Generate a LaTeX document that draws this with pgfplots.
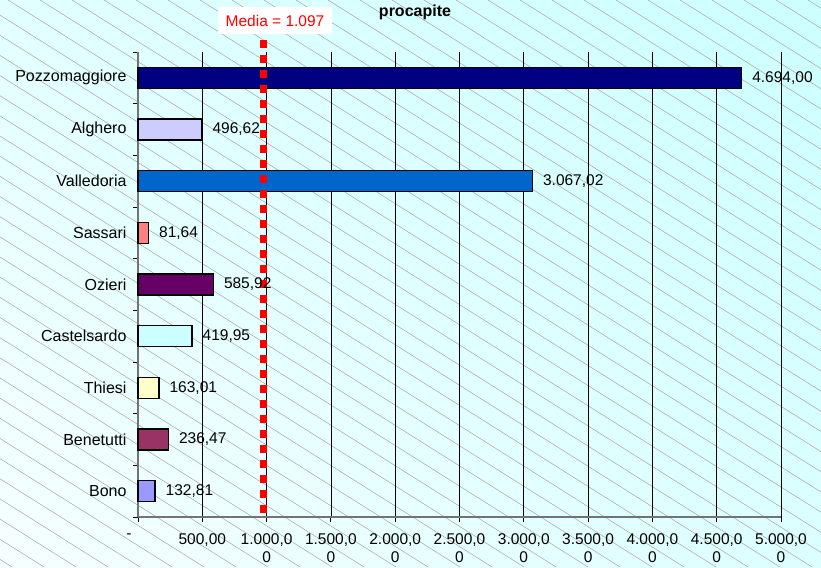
\documentclass[border=0pt]{standalone}
\usepackage{pgfplots}
\pgfplotsset{compat=1.18}
\usetikzlibrary{shadings}
\usepackage{fontspec}
\setmainfont{Liberation Sans}
\definecolor{cPozzo}{HTML}{000080}
\definecolor{cAlgh}{HTML}{CCCCFF}
\definecolor{cValle}{HTML}{0066CC}
\definecolor{cSass}{HTML}{FF8080}
\definecolor{cOzie}{HTML}{660066}
\definecolor{cCast}{HTML}{CCFFFF}
\definecolor{cThie}{HTML}{FFFFCC}
\definecolor{cBene}{HTML}{993366}
\definecolor{cBono}{HTML}{9999FF}
\definecolor{bgTL}{HTML}{E2FFFF}
\definecolor{bgTR}{HTML}{CCFFFF}
\definecolor{bgBL}{HTML}{F6FFFF}
\definecolor{bgBR}{HTML}{DCFFFF}
\newcommand{\lab}{\fontsize{15.5pt}{18pt}\selectfont}
\newcommand{\cat}{\fontsize{16pt}{18pt}\selectfont}
\begin{document}
\begin{tikzpicture}[x=1pt,y=1pt]
\shade[upper left=bgTL, upper right=bgTR, lower left=bgBL, lower right=bgBR] (0,0) rectangle (821,567);
\begin{scope}
\clip (0,0) rectangle (821,567);
\foreach \k in {-920,-888,...,830} {
  \draw[color=black!35, line width=0.5pt] (\k,567) -- ({\k+900},0);
}
\end{scope}
\path[use as bounding box] (0,0) rectangle (821,567);
\begin{axis}[
  at={(138pt,50pt)}, anchor=south west,
  scale only axis, width=643pt, height=465pt,
  xmin=0, xmax=5000, ymin=-0.5, ymax=8.5,
  y dir=reverse,
  clip=false,
  axis x line*=bottom, axis y line*=left,
  axis line style={-, draw=black!55, line width=1.6pt},
  xtick={0,500,...,5000},
  xticklabels={{\makebox[0pt]{-\hspace*{18pt}}},{500,00},{1.000,0\\0},{1.500,0\\0},{2.000,0\\0},{2.500,0\\0},{3.000,0\\0},{3.500,0\\0},{4.000,0\\0},{4.500,0\\0},{5.000,0\\0}},
  xticklabel style={align=center, font=\lab, yshift=-8pt},
  ytick={-0.5,0.5,...,8.5},
  yticklabels={},
  extra y ticks={0,1,2,3,4,5,6,7,8},
  extra y tick labels={Pozzomaggiore,Alghero,Valledoria,Sassari,Ozieri,Castelsardo,Thiesi,Benetutti,Bono},
  extra y tick style={major tick length=0pt, yticklabel style={font=\cat, xshift=-8pt}},
  tick align=outside,
  major tick length=5pt,
  tick style={black, line width=1pt},
  xmajorgrids=true,
  grid style={black, line width=0.8pt},
  mybar/.style={xbar, bar width=21pt, bar shift=0pt, draw=black, line width=1.3pt,
    nodes near coords, point meta=explicit symbolic,
    every node near coord/.append style={anchor=west, inner sep=0pt, xshift=10pt, font=\lab, text=black}},
]
\addplot[mybar, fill=cPozzo] coordinates {(4694.00,0) [4.694,00]};
\addplot[mybar, fill=cAlgh] coordinates {(496.62,1) [496,62]};
\addplot[mybar, fill=cValle] coordinates {(3067.02,2) [3.067,02]};
\addplot[mybar, fill=cSass] coordinates {(81.64,3) [81,64]};
\addplot[mybar, fill=cOzie] coordinates {(585.92,4) [585,92]};
\addplot[mybar, fill=cCast] coordinates {(419.95,5) [419,95]};
\addplot[mybar, fill=cThie] coordinates {(163.01,6) [163,01]};
\addplot[mybar, fill=cBene] coordinates {(236.47,7) [236,47]};
\addplot[mybar, fill=cBono] coordinates {(132.81,8) [132,81]};
\addplot[red, line width=7pt, dash pattern=on 7.5pt off 7.5pt] coordinates {(975,-0.73) (975,8.42)};
\end{axis}
\node[font=\fontsize{16pt}{19pt}\selectfont\bfseries] at (415,555) {procapite};
\node[fill=white, text=red, font=\lab, minimum width=114pt, minimum height=27pt, inner sep=0pt] at (275,546.5) {Media = 1.097};
\end{tikzpicture}
\end{document}
